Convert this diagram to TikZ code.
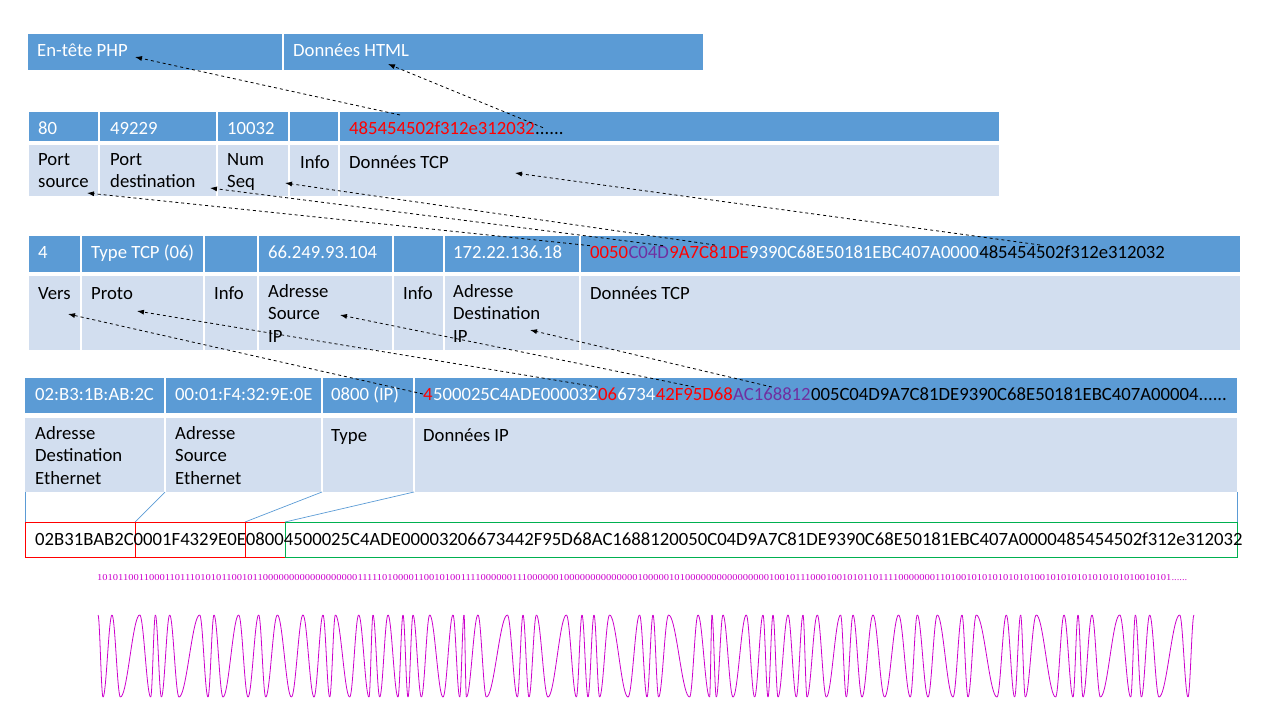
\documentclass[tikz,border=0pt]{standalone}
\usepackage{fontspec}
\setmainfont{Carlito}
\newfontfamily\bitfont{Liberation Serif}
\usepackage{graphicx}
\usetikzlibrary{arrows.meta}

\definecolor{barDark}{RGB}{91,155,213}
\definecolor{barLight}{RGB}{210,222,239}
\definecolor{hexRed}{RGB}{255,0,0}
\definecolor{hexPurple}{RGB}{112,48,160}
\definecolor{boxGreen}{RGB}{0,176,80}
\definecolor{waveMag}{RGB}{204,0,204}

\newcommand{\txtfont}{\fontsize{18.7}{22.5}\selectfont}

\tikzset{
  darkbar/.style={fill=barDark, draw=none},
  lightbar/.style={fill=barLight, draw=none},
  celldiv/.style={white, line width=1.2pt},
  cellhead/.style={anchor=base west, inner sep=0pt, font=\txtfont, text=white},
  lbl/.style={anchor=north west, inner sep=0pt, font=\txtfont, align=left, execute at begin node=\strut},
  hexpart/.style={anchor=base west, inner sep=0pt, font=\txtfont},
  ptr/.style={-{Latex[length=7pt,width=5pt]}, dashed, line width=0.8pt, black},
  blink/.style={barDark, line width=0.7pt},
  redbox/.style={draw=hexRed, line width=0.8pt},
  fskwave/.style={waveMag, line width=0.8pt}
}

\begin{document}
\begin{tikzpicture}[x=1pt,y=-1pt]
\useasboundingbox (0,0) rectangle (1280,720);

% Couche application
\fill[darkbar] (28,34) rectangle (703,70);
\draw[celldiv] (283,34) -- (283,70);
\node[cellhead] (php) at (37,56) {En-tête PHP};
\node[cellhead] (html) at (293,56) {Données HTML};

% Segment TCP
\fill[darkbar] (29,112) rectangle (999,141);
\fill[lightbar] (29,145) rectangle (999,196);
\foreach \xd in {99,217,289,339} \draw[celldiv] (\xd,112) -- (\xd,196);
\node[cellhead] (tsrc) at (38,134) {80};
\node[cellhead] (tdst) at (110,134) {49229};
\node[cellhead] (tseq) at (227,134) {10032};
\node[hexpart, text=hexRed] (t1) at (349,134) {485454502f312e312032};
\node[hexpart, text=black] (t2) at (t1.base east) {......};
\node[lbl] (lsrc) at (38,153) {Port\\source};
\node[lbl] (ldst) at (110,153) {Port\\destination};
\node[lbl] (lseq) at (227,153) {Num\\Seq};
\node[lbl] (linfo) at (300,153) {Info};
\node[lbl] (ldata) at (349,153) {Données TCP};

% Paquet IP
\fill[darkbar] (29,236) rectangle (1240,272);
\fill[lightbar] (29,276) rectangle (1240,350);
\foreach \xd in {81,204,258,393,444,580} \draw[celldiv] (\xd,236) -- (\xd,350);
\node[cellhead] (ivers) at (38,258) {4};
\node[cellhead] (iproto) at (91,258) {Type TCP (06)};
\node[cellhead] (isrc) at (268,258) {66.249.93.104};
\node[cellhead] (idst) at (453,258) {172.22.136.18};
\node[hexpart, text=hexRed] (i1) at (590,258) {0050};
\node[hexpart, text=hexPurple] (i2) at (i1.base east) {C04D};
\node[hexpart, text=hexRed] (i3) at (i2.base east) {9A7C81DE};
\node[hexpart, text=white] (i4) at (i3.base east) {9390C68E50181EBC407A0000};
\node[hexpart, text=black] (i5) at (i4.base east) {485454502f312e312032};
\node[lbl] (jvers) at (38,284) {Vers};
\node[lbl] (jproto) at (91,284) {Proto};
\node[lbl] (jinfo) at (214,284) {Info};
\node[lbl] (jsrc) at (268,284) {Adresse\\Source\\IP};
\node[lbl] (jinfob) at (403,284) {Info};
\node[lbl] (jdst) at (453,284) {Adresse\\Destination\\IP};
\node[lbl] (jdata) at (590,284) {Données TCP};

% Trame Ethernet
\fill[darkbar] (25,378) rectangle (1237,413);
\fill[lightbar] (25,418) rectangle (1237,492);
\foreach \xd in {165,322,414} \draw[celldiv] (\xd,378) -- (\xd,492);
\node[cellhead] (edst) at (35,400) {02:B3:1B:AB:2C};
\node[cellhead] (esrc) at (175,400) {00:01:F4:32:9E:0E};
\node[cellhead] (etype) at (331,400) {0800 (IP)};
\node[hexpart, text=hexRed] (e1) at (423,400) {4};
\node[hexpart, text=white] (e2) at (e1.base east) {500025C4ADE000032};
\node[hexpart, text=hexRed] (e3) at (e2.base east) {06};
\node[hexpart, text=white] (e4) at (e3.base east) {6734};
\node[hexpart, text=hexRed] (e5) at (e4.base east) {42F95D68};
\node[hexpart, text=hexPurple] (e6) at (e5.base east) {AC168812};
\node[hexpart, text=black] (e7) at (e6.base east) {005C04D9A7C81DE9390C68E50181EBC407A00004......};
\node[lbl] (fdst) at (35,426) {Adresse\\Destination\\Ethernet};
\node[lbl] (fsrc) at (175,426) {Adresse\\Source\\Ethernet};
\node[lbl] (ftype) at (331,426) {Type};
\node[lbl] (fdata) at (423,426) {Données IP};

% Trame brute
\draw[blink] (25,492) -- (25,522);
\draw[blink] (165,492) -- (135,522);
\draw[blink] (322,492) -- (245,522);
\draw[blink] (414,492) -- (285,522);
\draw[blink] (1237,492) -- (1237,522);
\draw[redbox] (25,522) rectangle (135,557);
\draw[redbox] (135,522) rectangle (245,557);
\draw[redbox] (245,522) rectangle (285,557);
\draw[boxGreen, line width=0.8pt] (285,522) rectangle (1237,557);
\node[hexpart, text=black] (frame) at (35,545) {02B31BAB2C0001F4329E0E08004500025C4ADE00003206673442F95D68AC1688120050C04D9A7C81DE9390C68E50181EBC407A0000485454502f312e312032};

% Bits
\node[inner sep=0pt, anchor=west] (bits) at (97,578) {\resizebox{1090pt}{6pt}{\bitfont\color{waveMag}10101100110001101110101011001011000000000000000000111110100001100101001111000000111000000100000000000000100000101000000000000000010010111000100101011011110000000110100101010101010100101010101010101010010101......}};

% Signal
\def\curx{98}
\foreach \w [count=\i] in {5,9,8.4,19.3,11,4.7,6,8.3,9.3,20.7,8.3,6,9,15.7,9.3,10.7,7,11.7,14,11.6,11,9,6.7,5.7,14.3,9,10.3,4,6.7,8.3,10,5,5,5,8.4,8.3,13.3,10,6.7,4.3,2.4,11.6,8.4,21,10,5.6,6,7.4,11.6,18.4,10,5.6,6,
  6,5.6,10,18.4,11.6,7.4,6,5.6,10,21,8.4,11.6,2.4,4.3,6.7,10,13.3,8.3,8.4,5,5,5,10,8.3,6.7,4,10.3,9,14.3,5.7,6.7,9,11,11.6,14,11.7,7,10.7,9.3,15.7,9,6,8.3,20.7,9.3,8.3,6,4.7,11,19.3,8.4,9,5,
  5,9,8.4,19.3,11,4.7,6,8.3,9.3,20.7,8.3,6}{
  \pgfmathsetmacro\sg{ifthenelse(isodd(\i),1,-1)}
  \draw[fskwave] plot[domain=0:180,samples=19] ({\curx+\w*\x/180},{656-\sg*41*cos(\x)});
  \pgfmathsetmacro\nx{\curx+\w}\xdef\curx{\nx}
}

% Correspondances
\coordinate (aPHP) at (135,57);
\coordinate (aHTML) at (388,64);
\coordinate (aPsrc) at (87,193);
\coordinate (aPdst) at (210,188);
\coordinate (aSeq) at (285,183);
\coordinate (aTcp) at (515,173);
\coordinate (aVers) at (68,314);
\coordinate (aProto) at (137,311);
\coordinate (aSrcIP) at (340,315);
\coordinate (aDstIP) at (530,330);
\draw[ptr] ([xshift=51pt,yshift=6pt]t1.north west) -- (aPHP);
\draw[ptr] ([xshift=8pt,yshift=4pt]t2.north west) -- (aHTML);
\draw[ptr] (i1.north west) -- (aPsrc);
\draw[ptr] ([xshift=-6pt]i2.north east) -- (aPdst);
\draw[ptr] ([xshift=6pt]i3.north) -- (aSeq);
\draw[ptr] ([xshift=61pt]i5.north west) -- (aTcp);
\draw[ptr] (e1.west) -- (aVers);
\draw[ptr] (e3.north west) -- (aProto);
\draw[ptr] (e5.north) -- (aSrcIP);
\draw[ptr] (e6.north) -- (aDstIP);
\end{tikzpicture}
\end{document}
